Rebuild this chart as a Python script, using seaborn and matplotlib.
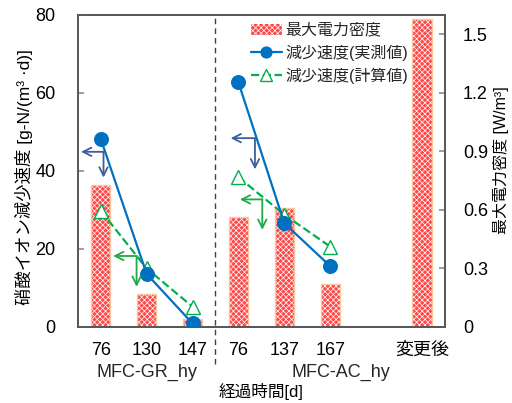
import numpy as np
import pandas as pd
import matplotlib
matplotlib.use("Agg")
import matplotlib.pyplot as plt
import seaborn as sns
from matplotlib.patches import Rectangle

sns.set_theme(style="white")
plt.rcParams["font.family"] = ["Liberation Sans", "Noto Sans CJK JP"]
plt.rcParams["hatch.linewidth"] = 0.5

# ---------------- data ----------------
slots = ["GR-76", "GR-130", "GR-147", "AC-76", "AC-137", "AC-167", "blank", "after"]
tick_labels = ["76", "130", "147", "76", "137", "167", "", "変更後"]
groups = ["MFC-GR_hy", "MFC-AC_hy"]
group_label_x = [1.0, 5.23]
gr_slots = ["GR-76", "GR-130", "GR-147"]
ac_slots = ["AC-76", "AC-137", "AC-167"]

bar_slots = ["GR-76", "GR-130", "GR-147", "AC-76", "AC-137", "AC-167", "after"]
max_power = [0.73, 0.168, 0.04, 0.566, 0.61, 0.218, 1.58]          # W/m3

gr_measured = [48.2, 13.6, 0.9]     # g-N/(m3 d)
ac_measured = [62.7, 26.6, 15.6]
gr_calc = [29.8, 15.0, 5.2]
ac_calc = [38.4, 28.8, 20.6]

# annotation arrows (x in category units, y in left-axis units)
gr_blue_arrow = dict(x0=0.06, x1=-0.43, y=44.9, y1=38.3)
ac_blue_arrow = dict(x0=3.36, x1=2.83, y=48.4, y1=40.4)
gr_green_arrow = dict(x0=0.78, x1=0.27, y=18.2, y1=10.3)
ac_green_arrow = dict(x0=3.52, x1=3.03, y=32.7, y1=24.9)

bar_label = "最大電力密度"
meas_label = "減少速度(実測値)"
calc_label = "減少速度(計算値)"
ylabel_left = "硝酸イオン減少速度 [g-N/(m³ ·d)]"
ylabel_right = "最大電力密度 [W/m³]"
xlabel = "経過時間[d]"

# ---------------- styles ----------------
BLUE = "#0070C0"
GREEN = "#00B050"
BAR_FACE = "#FF4848"
BAR_EDGE = "#F9C8A0"
ARROW_BLUE = "#3E5E98"
ARROW_GREEN = "#22A844"
SPINE = "#595959"
FS = 13

pos = {s: i for i, s in enumerate(slots)}

fig = plt.figure(figsize=(5.12, 4.03), dpi=100)
ax1 = fig.add_axes([0.152, 0.1886, 0.717, 0.7745])
ax2 = ax1.twinx()
ax1.set_zorder(ax2.get_zorder() + 1)
ax1.patch.set_visible(False)

# bars on right axis
bar_df = pd.DataFrame({"x": [pos[s] for s in bar_slots], "p": max_power})
sns.barplot(data=bar_df, x="x", y="p", native_scale=True, orient="x",
            width=0.42, color=BAR_FACE, ax=ax2, label=bar_label,
            saturation=1, errorbar=None)
if ax2.get_legend() is not None:
    ax2.get_legend().remove()
for p in list(ax2.patches):
    p.set_facecolor(BAR_FACE)
    p.set_edgecolor("white")
    p.set_hatch("xxxxxx")
    p.set_linewidth(0)
    ax2.add_patch(Rectangle(p.get_xy(), p.get_width(), p.get_height(),
                            fill=False, edgecolor=BAR_EDGE, linewidth=1.0))

# lines on left axis
for sl, meas, calc, first in [(gr_slots, gr_measured, gr_calc, True),
                              (ac_slots, ac_measured, ac_calc, False)]:
    xs = [pos[s] for s in sl]
    sns.lineplot(x=xs, y=calc, ax=ax1, color=GREEN, linestyle="--", linewidth=1.6,
                 marker="^", markersize=10, markerfacecolor="white",
                 markeredgecolor=GREEN, markeredgewidth=1.0,
                 label=calc_label if first else None, sort=False, errorbar=None,
                 zorder=3)
    sns.lineplot(x=xs, y=meas, ax=ax1, color=BLUE, linewidth=1.6,
                 marker="o", markersize=10, markerfacecolor=BLUE,
                 markeredgecolor=BLUE, label=meas_label if first else None,
                 sort=False, errorbar=None, zorder=4)
if ax1.get_legend() is not None:
    ax1.get_legend().remove()

# arrows
for a, c in [(gr_blue_arrow, ARROW_BLUE), (ac_blue_arrow, ARROW_BLUE),
             (gr_green_arrow, ARROW_GREEN), (ac_green_arrow, ARROW_GREEN)]:
    ap = dict(arrowstyle="->,head_length=0.5,head_width=0.25", color=c, lw=1.3,
              shrinkA=0, shrinkB=0)
    ax1.annotate("", xy=(a["x1"], a["y"]), xytext=(a["x0"], a["y"]), arrowprops=ap, zorder=5)
    ax1.annotate("", xy=(a["x0"], a["y1"]), xytext=(a["x0"], a["y"]), arrowprops=ap, zorder=5)

# separator
ax1.axvline(len(gr_slots) - 0.5, ymin=-0.118, ymax=1, color="#404040",
            linestyle=(0, (4, 3)), linewidth=1.0, clip_on=False)

# axes
ax1.set_xlim(-0.5, len(slots) - 0.5)
ax1.set_ylim(0, 80)
ax2.set_ylim(0, 1.6)
ax1.set_yticks([0, 20, 40, 60, 80])
ax1.set_yticklabels(["0", "20", "40", "60", "80"])
ax2.set_yticks([0, 0.3, 0.6, 0.9, 1.2, 1.5])
ax2.set_yticklabels(["0", "0.3", "0.6", "0.9", "1.2", "1.5"])
ax1.set_xticks(range(len(slots)))
ax1.set_xticklabels(tick_labels)
ax1.set_xticks(np.arange(len(slots) + 1) - 0.5, minor=True)
ax1.tick_params(axis="x", which="major", length=0, pad=11, labelsize=FS, labelcolor="black")
ax1.tick_params(axis="x", which="minor", direction="in", length=4, color="#909090", width=1)
ax1.tick_params(axis="y", direction="in", length=4, color="#909090", pad=16, labelsize=FS,
                labelcolor="black", left=True)
ax2.tick_params(axis="y", direction="in", length=4, color="#909090", pad=13, labelsize=FS,
                labelcolor="black", right=True)
ax2.set_xlabel("")
ax2.set_ylabel("")
for ax in (ax1, ax2):
    for s in ax.spines.values():
        s.set_color(SPINE)
        s.set_linewidth(1.4)

ax1.set_ylabel(ylabel_left, fontsize=12.5, color="black")
ax1.yaxis.set_label_coords(-0.123, 0.48)
ax2.set_ylabel(ylabel_right, fontsize=11.5, color="black", rotation=90)
ax2.yaxis.set_label_coords(1.132, 0.535)
ax1.set_xlabel(xlabel, fontsize=12, color="black")
ax1.xaxis.set_label_coords(0.5, -0.178)

trans = ax1.get_xaxis_transform()
for gx, gname in zip(group_label_x, groups):
    ax1.text(gx, -0.145, gname, transform=trans, ha="center", va="center", fontsize=FS)

# legend
h2, l2 = ax2.get_legend_handles_labels()
h1, l1 = ax1.get_legend_handles_labels()
hd = dict(zip(l2 + l1, h2 + h1))
order = [bar_label, meas_label, calc_label]
ax1.legend([hd[k] for k in order], order, loc="upper left", bbox_to_anchor=(0.455, 0.995),
           frameon=False, fontsize=11.5, handlelength=1.9, handletextpad=0.25,
           borderaxespad=0, labelspacing=0.42, numpoints=1, markerscale=0.8)

fig.savefig("out.png", dpi=100)
